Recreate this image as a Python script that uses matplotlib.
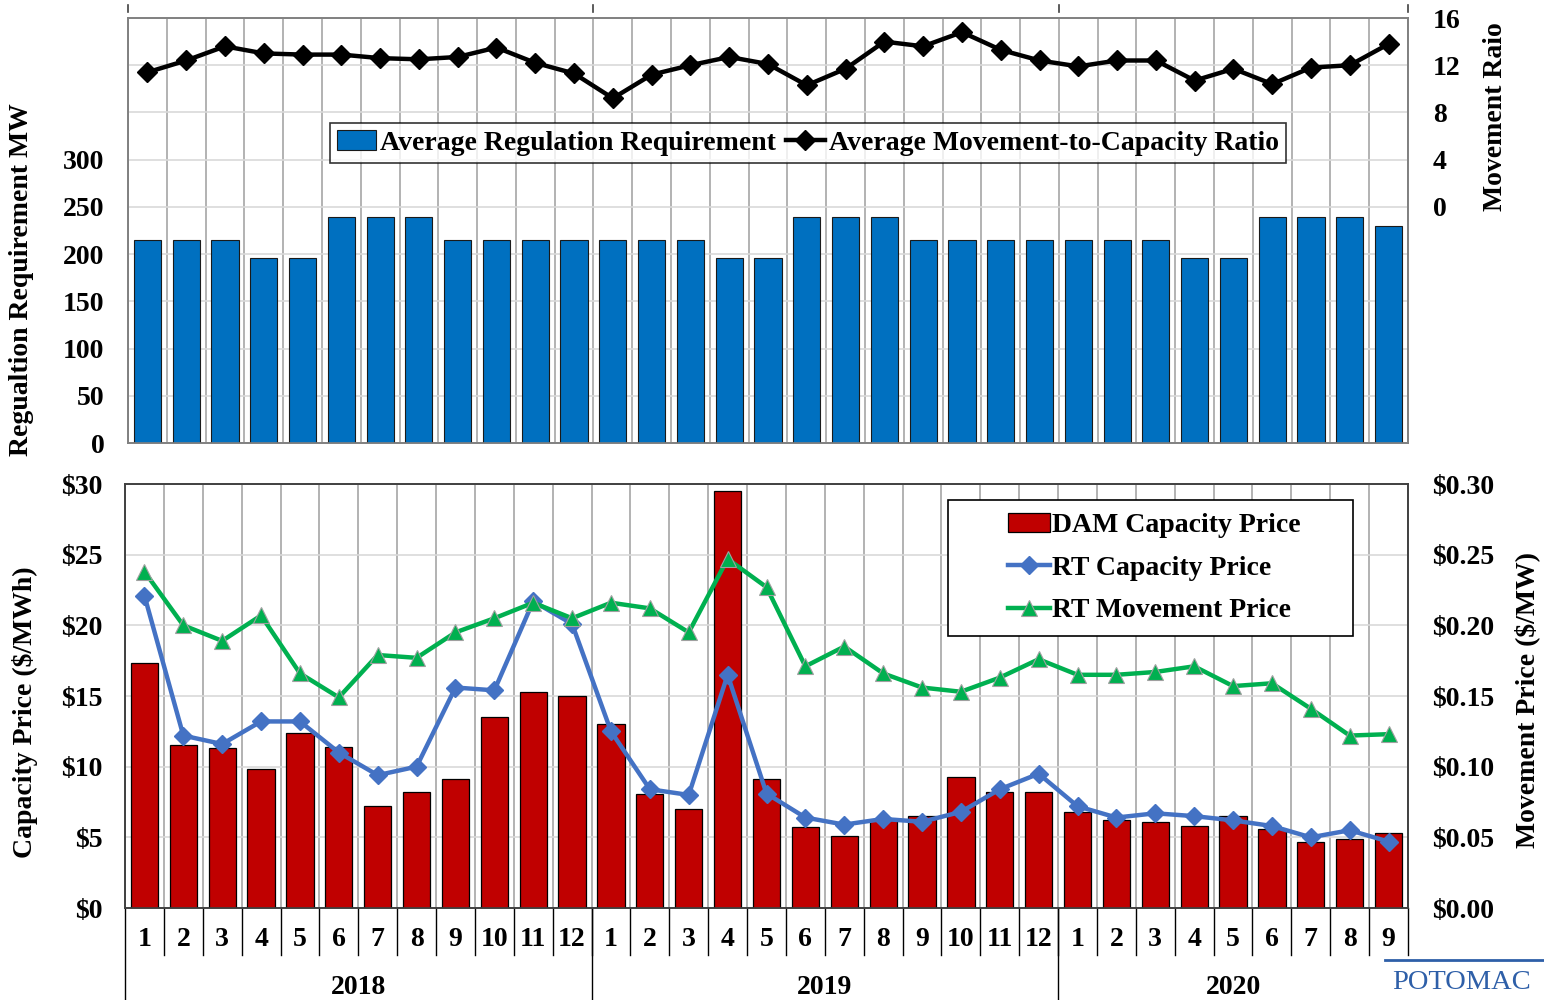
import matplotlib
matplotlib.use("Agg")
import matplotlib.pyplot as plt
import matplotlib.transforms as mtransforms
from matplotlib.lines import Line2D
from matplotlib.patches import Patch, Rectangle
import numpy as np

plt.rcParams['font.family'] = ['Liberation Serif', 'DejaVu Serif']
plt.rcParams['font.weight'] = 'bold'

# ---------------- data ----------------
months = [str(m) for m in range(1, 13)] + [str(m) for m in range(1, 13)] + [str(m) for m in range(1, 10)]
years = ['2018', '2019', '2020']
year_counts = [12, 12, 9]

reg_req = [215, 215, 215, 196, 196, 239, 239, 239, 215, 215, 215, 215,
           215, 215, 215, 196, 196, 239, 239, 239, 215, 215, 215, 215,
           215, 215, 215, 196, 196, 239, 239, 239, 230]
move_ratio = [11.4, 12.4, 13.6, 13.0, 12.9, 12.9, 12.6, 12.5, 12.7, 13.5, 12.2, 11.3,
              9.2, 11.2, 12.0, 12.7, 12.1, 10.3, 11.7, 14.0, 13.6, 14.8, 13.3, 12.4,
              11.9, 12.4, 12.4, 10.7, 11.7, 10.4, 11.8, 12.0, 13.8]

dam_cap = [17.3, 11.5, 11.3, 9.8, 12.4, 11.4, 7.2, 8.2, 9.1, 13.5, 15.3, 15.0,
           13.0, 8.1, 7.0, 29.5, 9.1, 5.7, 5.1, 6.2, 6.5, 9.3, 8.2, 8.2,
           6.8, 6.2, 6.1, 5.8, 6.5, 5.6, 4.7, 4.9, 5.3]
rt_cap = [22.1, 12.2, 11.6, 13.2, 13.2, 11.0, 9.4, 10.0, 15.6, 15.4, 21.7, 20.1,
          12.5, 8.4, 8.0, 16.5, 8.1, 6.4, 5.9, 6.3, 6.1, 6.8, 8.4, 9.5,
          7.2, 6.4, 6.7, 6.5, 6.2, 5.8, 5.0, 5.5, 4.7]
rt_move = [0.238, 0.200, 0.189, 0.207, 0.166, 0.149, 0.179, 0.177, 0.195, 0.205, 0.216, 0.205,
           0.216, 0.212, 0.195, 0.247, 0.227, 0.171, 0.185, 0.166, 0.156, 0.153, 0.163, 0.176,
           0.165, 0.165, 0.167, 0.171, 0.157, 0.159, 0.141, 0.122, 0.123]

n = len(months)
x = np.arange(n)

FS = 20
BLUE = '#0070C0'
RED = '#C00000'
LBLUE = '#4472C4'
GREEN = '#00B050'

fig = plt.figure(figsize=(15.44, 10), dpi=100)

# ---------------- top panel ----------------
ax1 = fig.add_axes([128/1544, 1-443/1000, (1408-128)/1544, (443-18)/1000])
ax1.bar(x, reg_req, width=0.7, color=BLUE, edgecolor='#1a1a1a', linewidth=0.8, zorder=3)
ax1.set_xlim(-0.5, n-0.5)
ax1.set_ylim(0, 450)
ax1.set_yticks(np.arange(0, 451, 50))
ax1.set_yticklabels([str(v) if v <= 300 else '' for v in range(0, 451, 50)])
ax1.set_xticks([])
ax1.set_xticks(np.arange(-0.5, n, 1), minor=True)
ax1.grid(axis='x', which='minor', color='#A6A6A6', linewidth=1.2, zorder=0)
ax1.grid(axis='y', which='major', color='#D9D9D9', linewidth=1.2, zorder=0)
ax1.tick_params(axis='y', length=0, pad=17, labelsize=FS)
ax1.tick_params(axis='x', which='both', length=0)
for s in ax1.spines.values():
    s.set_color('#808080')
    s.set_linewidth(1.2)

ax1r = ax1.twinx()
ax1r.plot(x, move_ratio, color='black', linewidth=3.2, marker='D', markersize=10.5, zorder=5)
ax1r.set_ylim(-20, 16)
ax1r.set_yticks([0, 4, 8, 12, 16])
ax1r.tick_params(axis='y', length=0, pad=18, labelsize=FS)
for s in ax1r.spines.values():
    s.set_color('#808080')
    s.set_linewidth(1.2)

h1 = [Patch(facecolor=BLUE, edgecolor='#1a1a1a', linewidth=0.8),
      Line2D([], [], color='black', linewidth=3.2, marker='D', markersize=10.5)]
leg1 = ax1r.legend(h1, ['Average Regulation Requirement', 'Average Movement-to-Capacity Ratio'],
                   loc='center', bbox_to_anchor=((808-128)/1280, (443-143)/425), ncol=2,
                   fontsize=FS, frameon=True, fancybox=False, edgecolor='black',
                   handlelength=1.4, handletextpad=0.15, columnspacing=0.35,
                   borderpad=0.25, borderaxespad=0)
leg1.get_frame().set_linewidth(1.2)

# small year ticks above the top panel
trans_top = mtransforms.blended_transform_factory(ax1.transData, ax1.transAxes)
for xb in [-0.5, 11.5, 23.5, n-0.5]:
    ax1.plot([xb, xb], [1.015, 1.03], color='#404040', linewidth=1.2,
             transform=trans_top, clip_on=False)

fig.text(22/1544, 1-280/1000, 'Regualtion Requirement MW', rotation=90,
         ha='center', va='center', fontsize=FS, fontweight='bold')
fig.text(1495/1544, 1-117/1000, 'Movement Raio', rotation=90,
         ha='center', va='center', fontsize=FS, fontweight='bold')

# ---------------- bottom panel ----------------
ax2 = fig.add_axes([125/1544, 1-908/1000, (1408-125)/1544, (908-484)/1000])
ax2.bar(x, dam_cap, width=0.7, color=RED, edgecolor='black', linewidth=0.9, zorder=3)
ax2.plot(x, rt_cap, color=LBLUE, linewidth=3.2, marker='D', markersize=9, zorder=4)
ax2.set_xlim(-0.5, n-0.5)
ax2.set_ylim(0, 30)
ax2.set_yticks(np.arange(0, 31, 5))
ax2.set_yticklabels(['$' + str(v) for v in range(0, 31, 5)])
ax2.set_xticks(x)
ax2.set_xticklabels([])
ax2.set_xticks(np.arange(-0.5, n, 1), minor=True)
ax2.grid(axis='x', which='minor', color='#A6A6A6', linewidth=1.2, zorder=0)
ax2.grid(axis='y', which='major', color='#D9D9D9', linewidth=1.2, zorder=0)
ax2.tick_params(axis='y', length=0, pad=16, labelsize=FS)
ax2.tick_params(axis='x', which='both', length=0)
for s in ax2.spines.values():
    s.set_color('#404040')
    s.set_linewidth(1.2)

ax2r = ax2.twinx()
ax2r.plot(x, rt_move, color=GREEN, linewidth=3.2, marker='^', markersize=12,
          markeredgecolor='#A0A0A0', markeredgewidth=0.8, zorder=5)
ax2r.set_ylim(0, 0.30)
ax2r.set_yticks(np.arange(0, 0.301, 0.05))
ax2r.set_yticklabels(['$%.2f' % v for v in np.arange(0, 0.301, 0.05)])
ax2r.tick_params(axis='y', length=0, pad=17, labelsize=FS)
for s in ax2r.spines.values():
    s.set_color('#404040')
    s.set_linewidth(1.2)

# legend frame drawn separately (Excel-style wide left margin)
ax2r.add_patch(Rectangle(((948-125)/1283, (908-636)/424), (1353-948)/1283, (636-500)/424,
                         transform=ax2r.transAxes, facecolor='white', edgecolor='black',
                         linewidth=1.2, zorder=6))
h2 = [Patch(facecolor=RED, edgecolor='black', linewidth=0.9),
      Line2D([], [], color=LBLUE, linewidth=3.2, marker='D', markersize=9),
      Line2D([], [], color=GREEN, linewidth=3.2, marker='^', markersize=12,
             markeredgecolor='#A0A0A0', markeredgewidth=0.8)]
leg2 = ax2r.legend(h2, ['DAM Capacity Price', 'RT Capacity Price', 'RT Movement Price'],
                   loc='center left', bbox_to_anchor=((1008-125)/1283, (908-568)/424),
                   fontsize=FS, frameon=False,
                   handlelength=1.5, handletextpad=0.1, labelspacing=0.62,
                   borderpad=0, borderaxespad=0)
leg2.set_zorder(7)

# category axis under bottom panel
trans_b = mtransforms.blended_transform_factory(ax2.transData, ax2.transAxes)
row1 = -(955-908)/424
row2 = -(1000-908)/424
for i, m in enumerate(months):
    ax2.text(i, -(940-908)/424, m, transform=trans_b, ha='center', va='center',
             fontsize=FS, fontweight='bold', clip_on=False)
for i in range(1, n):
    ax2.plot([i-0.5, i-0.5], [0, row1], color='black', linewidth=1.0,
             transform=trans_b, clip_on=False)
ax2.plot([n-0.5, n-0.5], [0, row1], color='black', linewidth=1.0,
         transform=trans_b, clip_on=False)
start = 0
for yr, cnt in zip(years, year_counts):
    ax2.plot([start-0.5, start-0.5], [0, row2], color='black', linewidth=1.0,
             transform=trans_b, clip_on=False)
    ax2.text(start + (cnt-1)/2, -(987-908)/424, yr, transform=trans_b, ha='center',
             va='center', fontsize=FS, fontweight='bold', clip_on=False)
    start += cnt

fig.text(25/1544, 1-712/1000, 'Capacity Price ($/MWh)', rotation=90,
         ha='center', va='center', fontsize=FS, fontweight='bold')
fig.text(1527/1544, 1-700/1000, 'Movement Price ($/MW)', rotation=90,
         ha='center', va='center', fontsize=FS, fontweight='bold')

# logo text at bottom right
fig.add_artist(Line2D([1385/1544, 1], [1-960/1000, 1-960/1000], color='#2E5FA8',
                      linewidth=2, transform=fig.transFigure))
fig.text(1392/1544, 1-995/1000, 'POTOMAC', ha='left', va='bottom', fontsize=20.5,
         fontweight='normal', color='#2E5FA8', family='Liberation Serif')

fig.savefig('out.png', dpi=100)
